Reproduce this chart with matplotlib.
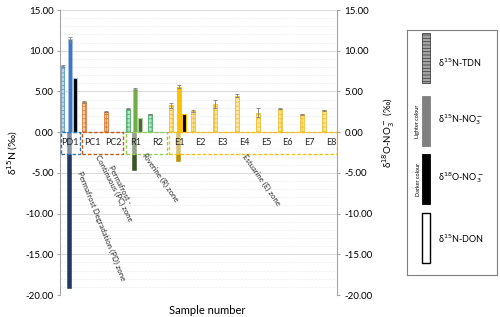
import numpy as np
import matplotlib
matplotlib.use('Agg')
import matplotlib.pyplot as plt
from matplotlib.patches import Rectangle
from matplotlib.ticker import FormatStrFormatter, MultipleLocator

plt.rcParams['font.family'] = ['Lato', 'DejaVu Sans']
plt.rcParams['hatch.linewidth'] = 0.6

# sample data
samples = ['PD1', 'PC1', 'PC2', 'R1', 'R2', 'E1', 'E2', 'E3', 'E4', 'E5', 'E6', 'E7', 'E8']
zones = ['PD', 'PC', 'PC', 'R', 'R', 'E', 'E', 'E', 'E', 'E', 'E', 'E', 'E']
nan = np.nan
tdn = [8.1, 3.7, 2.5, 2.9, 2.2, 3.3, 2.6, 3.5, 4.5, 2.4, 2.9, 2.2, 2.7]
tdn_err = [0.1, 0.1, 0.05, 0.1, 0.05, 0.3, 0.1, 0.5, 0.2, 0.6, 0.1, 0.05, 0.05]
n15_no3 = [11.4, nan, nan, 5.3, nan, 5.6, nan, nan, nan, nan, nan, nan, nan]
n15_no3_err = [0.3, 0, 0, 0.1, 0, 0.15, 0, 0, 0, 0, 0, 0, 0]
o18_no3 = [6.7, nan, nan, 1.7, nan, 2.2, nan, nan, nan, nan, nan, nan, nan]
don = [-19.1, nan, nan, -4.7, nan, -3.5, nan, nan, nan, nan, nan, nan, nan]

zone_names = {'PD': 'Permafrost Degradation (PD) zone',
              'PC': 'Permafrost -\nContinuous (PC) zone',
              'R': 'Riverine (R) zone',
              'E': 'Estuarine (E) zone'}

# colours per zone: tdn face, tdn edge, no3, o18 face, o18 edge, don, box
colours = {
    'PD': dict(tdn='#BDD7EE', tdn_e='#5B9BD5', no3='#4472C4', o18='#000000', o18_e='#9DC3E6', don='#1F3864', box='#2E75B6'),
    'PC': dict(tdn='#F8CBAD', tdn_e='#E07B39', no3='#ED7D31', o18='#000000', o18_e='#F4B183', don='#843C0C', box='#C55A11'),
    'R': dict(tdn='#B5E6C8', tdn_e='#4CB06A', no3='#70AD47', o18='#595959', o18_e='#A9D18E', don='#375623', box='#92D050'),
    'E': dict(tdn='#FFE699', tdn_e='#F2C037', no3='#FFC000', o18='#000000', o18_e='#FFC000', don='#BF9000', box='#FFC000'),
}

fig = plt.figure(figsize=(5, 3.17), dpi=100)
ax = fig.add_axes([0.12, 0.0694, 0.554, 0.899])

x = np.arange(len(samples))
w = 0.18
for i, z in enumerate(zones):
    c = colours[z]
    ax.bar(x[i] - 0.2, tdn[i], w, color=c['tdn'], edgecolor=c['tdn_e'], hatch='++++', lw=0.6, zorder=3)
    ax.errorbar(x[i] - 0.2, tdn[i], yerr=tdn_err[i], fmt='none', ecolor='#7F7F7F', elinewidth=0.6, capsize=1.2, capthick=0.6, zorder=4)
    if not np.isnan(don[i]):
        ax.bar(x[i] + 0.1, don[i], w, color=c['don'], edgecolor=c['don'], lw=0.4, zorder=3)
    if not np.isnan(n15_no3[i]):
        ax.bar(x[i] + 0.14, n15_no3[i], w, color=c['no3'], edgecolor=c['o18_e'], lw=0.6, zorder=3)
        ax.errorbar(x[i] + 0.14, n15_no3[i], yerr=n15_no3_err[i], fmt='none', ecolor='#7F7F7F', elinewidth=0.6, capsize=1.2, capthick=0.6, zorder=4)
    if not np.isnan(o18_no3[i]):
        ax.bar(x[i] + 0.37, o18_no3[i], w, color=c['o18'], edgecolor=c['o18_e'], lw=0.8, zorder=3)

xmin, xmax = -0.315, 12.41
ax.set_xlim(xmin, xmax)
ax.set_ylim(-20, 15)
ax.yaxis.set_major_locator(MultipleLocator(5))
ax.yaxis.set_minor_locator(MultipleLocator(1))
ax.yaxis.set_major_formatter(FormatStrFormatter('%.2f'))
ax.grid(axis='y', which='major', color='#D9D9D9', lw=0.7, zorder=0)
ax.grid(axis='y', which='minor', color='#EDEDED', lw=0.5, ls='--', zorder=0)
ax.axhline(0, color='#A6A6A6', lw=0.7, zorder=2)
ax.set_xticks([])
for s in ['top', 'bottom', 'right']:
    ax.spines[s].set_visible(False)
ax.spines['left'].set_color('#A6A6A6')
ax.tick_params(axis='y', which='major', labelsize=7, length=2.5, color='#A6A6A6', pad=2)
ax.tick_params(axis='y', which='minor', length=0)
ax.set_ylabel('δ$^{15}$N (‰)', fontsize=7.5, labelpad=4)
ax.set_xlabel('Sample number', fontsize=8, labelpad=4)
ax.xaxis.set_label_coords(0.53, -0.035)

ax2 = ax.twinx()
ax2.set_ylim(-20, 15)
ax2.yaxis.set_major_locator(MultipleLocator(5))
ax2.yaxis.set_major_formatter(FormatStrFormatter('%.2f'))
for s in ['top', 'bottom', 'left']:
    ax2.spines[s].set_visible(False)
ax2.spines['right'].set_color('#A6A6A6')
ax2.tick_params(axis='y', labelsize=7, length=2.5, color='#A6A6A6', pad=3)
ax2.set_ylabel('δ$^{18}$O-NO$_3^-$ (‰)', fontsize=7, labelpad=3)
ax2.yaxis.set_label_coords(1.155, 0.57)

# zone boxes under the zero line with sample names
box_depth = -2.65
rot = {'PD': -68, 'PC': -63, 'R': -55, 'E': -55}
text_pos = {'PD': (1.6, -11.5), 'PC': (2.3, -6.7), 'R': (4.3, -5.6), 'E': (8.95, -5.85)}
for z in ['PD', 'PC', 'R', 'E']:
    idx = [i for i, zz in enumerate(zones) if zz == z]
    left = max(idx[0] - 0.3, xmin + 0.05)
    right = min(idx[-1] + 0.6, xmax - 0.02)
    ax.add_patch(Rectangle((left, box_depth), right - left, -box_depth, facecolor=(1, 1, 1, 0.45),
                           edgecolor=colours[z]['box'], lw=1.0, ls=(0, (2.5, 1.5)), zorder=5))
    tx, ty = text_pos[z]
    ax.text(tx, ty, zone_names[z], rotation=rot[z], fontsize=5.6, ha='center', va='center',
            rotation_mode='anchor', color='#262626', zorder=6, linespacing=1.0)
for i, s in enumerate(samples):
    ax.text(x[i] + 0.15, box_depth / 2, s, fontsize=6.5, ha='center', va='center', color='#262626', zorder=6)

# manual legend panel on the right
lg = fig.add_axes([407 / 500, 1 - 275 / 317, 90 / 500, 245 / 317])
lg.set_xlim(0, 90)
lg.set_ylim(245, 0)
lg.set_xticks([])
lg.set_yticks([])
for s in lg.spines.values():
    s.set_color('#7F7F7F')
    s.set_linewidth(0.8)
lg.add_patch(Rectangle((15, 3), 8, 50, facecolor='#A6A6A6', edgecolor='#404040', hatch='-----', lw=0.6))
lg.add_patch(Rectangle((15, 66), 8, 50, facecolor='#808080', edgecolor='#808080', lw=0.6))
lg.add_patch(Rectangle((15, 124), 8, 50, facecolor='#000000', edgecolor='#000000', lw=0.6))
lg.add_patch(Rectangle((15, 183), 8, 50, facecolor='white', edgecolor='#000000', lw=1.0))
lg.text(11, 91, 'Lighter colour', rotation=90, fontsize=4, ha='center', va='center')
lg.text(11, 149, 'Darker colour', rotation=90, fontsize=4, ha='center', va='center')
lg.text(31, 33, 'δ$^{15}$N-TDN', fontsize=6.5, va='center')
lg.text(31, 90, 'δ$^{15}$N-NO$_3^-$', fontsize=6.5, va='center')
lg.text(31, 148, 'δ$^{18}$O-NO$_3^-$', fontsize=6.5, va='center')
lg.text(31, 209, 'δ$^{15}$N-DON', fontsize=6.5, va='center')

fig.savefig('out.png', dpi=100)
